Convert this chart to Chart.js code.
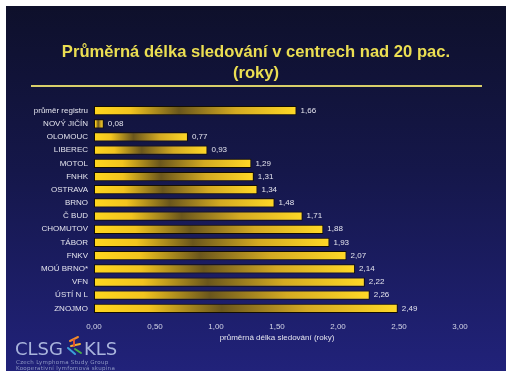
<!DOCTYPE html>
<html>
<head>
<meta charset="utf-8">
<script src="https://cdn.jsdelivr.net/npm/chart.js@4/dist/chart.umd.min.js"></script>
<style>
  html, body { margin: 0; padding: 0; background: #fff; }
  canvas { display: block; }
</style>
</head>
<body>
<canvas id="myChart" width="511" height="387"></canvas>
<script>
// data
const centres = [
  'průměr registru', 'NOVÝ JIČÍN', 'OLOMOUC', 'LIBEREC', 'MOTOL', 'FNHK',
  'OSTRAVA', 'BRNO', 'Č BUD', 'CHOMUTOV', 'TÁBOR', 'FNKV', 'MOÚ BRNO*',
  'VFN', 'ÚSTÍ N L', 'ZNOJMO'
];
const followUp = [1.66, 0.08, 0.77, 0.93, 1.29, 1.31, 1.34, 1.48, 1.71, 1.88, 1.93, 2.07, 2.14, 2.22, 2.26, 2.49];
const xMin = 0, xMax = 3, xStep = 0.5;

const titleLines = ['Průměrná délka sledování v centrech nad 20 pac.', '(roky)'];
const axisTitle = 'průměrná délka sledování (roky)';

const fmt = v => v.toFixed(2).replace('.', ',');

// gold bar gradient, stretched over each bar
function barFill(ctx) {
  const chart = ctx.chart;
  if (!chart.chartArea || ctx.dataIndex === undefined) return '#f5c81e';
  const x = chart.scales.x;
  const x0 = x.getPixelForValue(0);
  const x1 = x.getPixelForValue(followUp[ctx.dataIndex]);
  const g = chart.ctx.createLinearGradient(x0, 0, Math.max(x1, x0 + 1), 0);
  g.addColorStop(0, '#ffd61e');
  g.addColorStop(0.18, '#f2c41e');
  g.addColorStop(0.42, '#6a561c');
  g.addColorStop(0.7, '#d4aa22');
  g.addColorStop(1, '#ffd826');
  return g;
}

// slide background, title, rule and logo
const slide = {
  id: 'slide',
  beforeDraw(chart) {
    const c = chart.ctx;
    c.save();
    c.fillStyle = '#ffffff';
    c.fillRect(0, 0, chart.width, chart.height);
    const bg = c.createLinearGradient(0, 6, 0, 371);
    bg.addColorStop(0, '#0e102b');
    bg.addColorStop(0.45, '#15174a');
    bg.addColorStop(1, '#21227a');
    c.fillStyle = bg;
    c.fillRect(6, 6, 500, 365);
    // title
    c.fillStyle = '#ebde52';
    c.font = 'bold 16.6px "Liberation Sans", Arial, sans-serif';
    c.textAlign = 'center';
    c.textBaseline = 'middle';
    c.fillText(titleLines[0], 256, 52);
    c.fillText(titleLines[1], 256, 73);
    // rule under title
    c.strokeStyle = '#d9cf6a';
    c.lineWidth = 2;
    c.beginPath();
    c.moveTo(31, 86);
    c.lineTo(482, 86);
    c.stroke();
    c.restore();
  },
  afterDraw(chart) {
    const c = chart.ctx;
    c.save();
    // value labels
    const meta = chart.getDatasetMeta(0);
    c.fillStyle = '#e4e4ee';
    c.font = '8px "Liberation Sans", Arial, sans-serif';
    c.textBaseline = 'middle';
    c.textAlign = 'left';
    meta.data.forEach((bar, i) => {
      c.fillText(fmt(followUp[i]), bar.x + 4, bar.y);
    });
    // logo
    c.fillStyle = '#a9b4dc';
    c.font = '18px "DejaVu Sans", sans-serif';
    c.textBaseline = 'alphabetic';
    c.fillText('CLSG', 15, 355);
    c.fillText('KLS', 84, 355);
    c.lineWidth = 2;
    c.lineCap = 'round';
    [['#f08a2a', 70, 341, 78, 337], ['#f0b030', 71, 346, 80, 344], ['#3aa0d8', 68, 348, 75, 354],
     ['#48b048', 75, 349, 81, 353], ['#e05030', 74, 340, 74, 346]].forEach(s => {
      c.strokeStyle = s[0];
      c.beginPath(); c.moveTo(s[1], s[2]); c.lineTo(s[3], s[4]); c.stroke();
    });
    c.fillStyle = '#8e98c4';
    c.font = '5.5px "DejaVu Sans", sans-serif';
    c.letterSpacing = '0.3px';
    c.fillText('Czech Lymphoma Study Group', 16, 364);
    c.fillText('Kooperativní lymfomová skupina', 16, 369.5);
    c.restore();
  }
};

const config = {
  type: 'bar',
  data: {
    labels: centres,
    datasets: [{
      data: followUp,
      backgroundColor: barFill,
      borderColor: '#140e00',
      borderWidth: 1,
      borderSkipped: false,
      categoryPercentage: 1,
      barPercentage: 0.7
    }]
  },
  options: {
    indexAxis: 'y',
    responsive: false,
    animation: false,
    devicePixelRatio: 1,
    layout: { padding: { left: 10, right: 51, top: 104, bottom: 44 } },
    plugins: {
      legend: { display: false },
      tooltip: { enabled: false },
      title: { display: false }
    },
    scales: {
      x: {
        min: xMin,
        max: xMax,
        grid: { display: false, drawTicks: false },
        border: { display: false },
        afterFit(scale) { scale.height = 28; },
        ticks: {
          stepSize: xStep,
          padding: 7,
          color: '#d2d4e6',
          font: { family: '"Liberation Sans", Arial, sans-serif', size: 8 },
          callback: v => fmt(v)
        },
        title: {
          display: true,
          text: axisTitle,
          color: '#e4e4ee',
          font: { family: '"Liberation Sans", Arial, sans-serif', size: 8 },
          padding: { top: 2, bottom: 0 }
        }
      },
      y: {
        grid: { display: false, drawTicks: false },
        border: { display: false },
        afterFit(scale) { scale.width = 84; },
        ticks: {
          padding: 6,
          color: '#e4e4ee',
          font: { family: '"Liberation Sans", Arial, sans-serif', size: 8 }
        }
      }
    }
  },
  plugins: [slide]
};

const myChart = new Chart(document.getElementById('myChart'), config);
</script>
</body>
</html>
